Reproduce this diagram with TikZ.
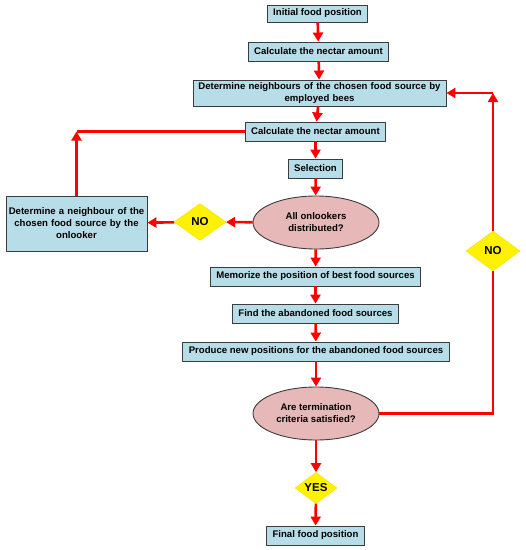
\documentclass[tikz,border=0pt]{standalone}
\usepackage{fontspec}
\setmainfont{Liberation Sans}
\usepackage{xcolor}
\usepackage{tikz}
\usetikzlibrary{arrows.meta,positioning,calc,shapes.geometric}
\definecolor{boxblue}{RGB}{183,221,232}
\definecolor{rosefill}{RGB}{230,184,183}
\definecolor{edgegray}{RGB}{60,60,60}
\definecolor{flowred}{RGB}{255,0,0}
\tikzset{
  stepbox/.style={rectangle,draw=edgegray,fill=boxblue,line width=0.9pt,
    font=\bfseries\fontsize{9.6}{12}\selectfont,align=center,
    inner xsep=6pt,inner ysep=0pt,minimum height=19pt},
  query/.style={ellipse,draw=edgegray,fill=rosefill,line width=0.9pt,
    font=\bfseries\fontsize{9.6}{12}\selectfont,align=center,
    minimum width=126pt,minimum height=53pt,inner sep=0pt},
  answer/.style={diamond,draw=yellow!80!orange,fill=yellow,line width=0.4pt,
    font=\bfseries\fontsize{11.5}{13}\selectfont,inner sep=0pt},
  flow/.style={-{Triangle[length=9pt,width=10pt]},line width=2.6pt,draw=flowred},
  link/.style={line width=2.6pt,draw=flowred}
}

\begin{document}
\begin{tikzpicture}[x=1pt,y=-1pt]
  \useasboundingbox (0,0) rectangle (526,550);

  % main column
  \node[stepbox,minimum height=17pt] (init) at (317.5,13.5) {Initial food position};
  \node[stepbox] (calc1) at (318.5,51.5) {Calculate the nectar amount};
  \node[stepbox,text width=245pt,inner xsep=4pt,minimum height=26pt] (nbr) at (319.5,93)
    {Determine neighbours of the chosen food source by\\ employed bees};
  \node[stepbox] (calc2) at (315.5,131.5) {Calculate the nectar amount};
  \node[stepbox] (sel) at (315.5,168.5) {Selection};
  \node[query] (onl) at (316,222.5) {All onlookers\\ distributed?};
  \node[stepbox] (mem) at (315.5,276.5) {Memorize the position of best food sources};
  \node[stepbox] (find) at (315.5,313.5) {Find the abandoned food sources};
  \node[stepbox] (prod) at (316,351.5) {Produce new positions for the abandoned food sources};
  \node[query] (term) at (316,413.5) {Are termination\\ criteria satisfied?};
  \node[answer,minimum width=42pt,minimum height=30pt] (yes) at (316,488) {YES};
  \node[stepbox] (final) at (315.5,535.5) {Final food position};

  % onlooker loop
  \node[answer,minimum width=52pt,minimum height=37pt] (no1) at (200,222) {NO};
  \node[stepbox,text width=139pt,inner xsep=1pt,minimum height=55pt] (onb) at (76.5,223.5)
    {Determine a neighbour of the\\ chosen food source by the\\ onlooker};

  % termination loop
  \node[answer,minimum width=54pt,minimum height=40pt] (no2) at (493,251) {NO};

  \coordinate (cl) at (onb.north |- calc2.west);
  \coordinate (cr) at (no2.north |- nbr.east);
  \coordinate (br) at (no2.south |- term.east);

  \foreach \a/\b in {init/calc1,calc1/nbr,nbr/calc2,calc2/sel,sel/onl,onl/mem,
      mem/find,find/prod,prod/term,term/yes,yes/final}{
    \draw[flow] (\a) -- (\b);
  }

  \draw[flow] (onl) -- (no1);
  \draw[flow] (no1) -- (onb);
  \draw[flow] (onb.north) -- (cl);
  \draw[link] (cl) -- (calc2.west);

  \draw[link] (term.east) -- (br) -- (no2.south);
  \draw[flow] (no2.north) -- (cr);
  \draw[flow] (cr) -- (nbr.east);
\end{tikzpicture}
\end{document}
